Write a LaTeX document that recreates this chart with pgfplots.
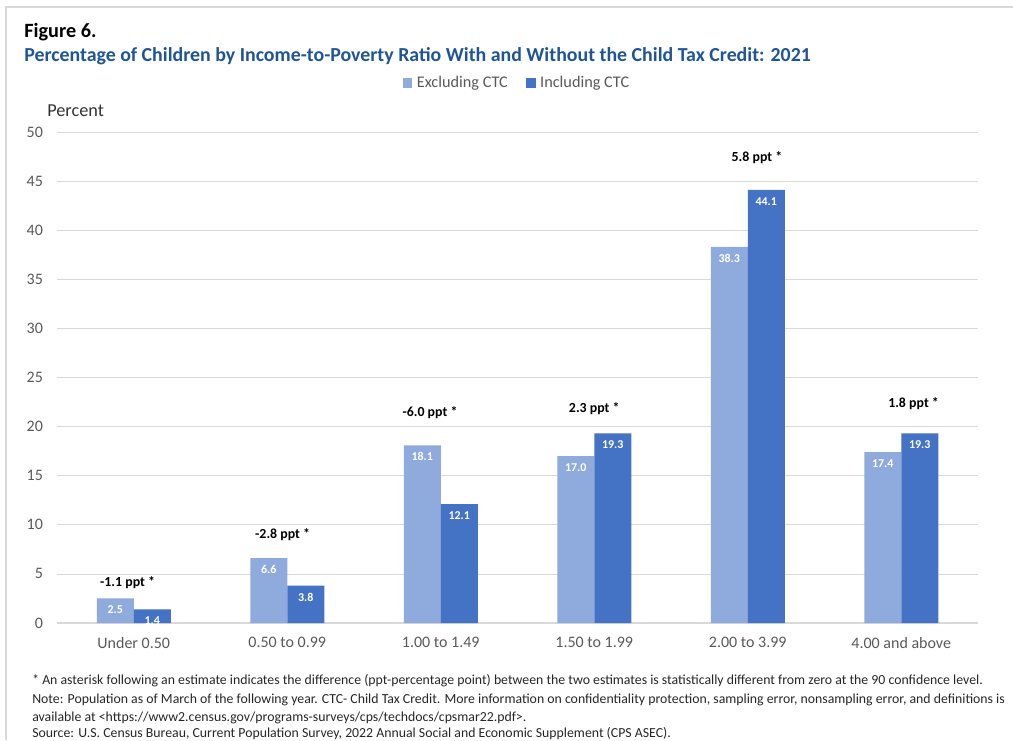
\documentclass[border=0pt]{standalone}
\usepackage{pgfplots}
\pgfplotsset{compat=1.18}
\usepackage{fontspec}
\setmainfont{Carlito}
\definecolor{lightbar}{HTML}{8FAADC}
\definecolor{darkbar}{HTML}{4472C4}
\definecolor{titleblue}{HTML}{1F5597}
\definecolor{ticktext}{HTML}{595959}
\definecolor{gridc}{HTML}{D9D9D9}
\definecolor{framec}{HTML}{D9D9D9}
\begin{document}
\begin{tikzpicture}
\path[use as bounding box] (0,0) rectangle (759.75pt,555pt);
\draw[framec, line width=0.8pt] (4.5pt,0pt) -- (4.5pt,549.75pt) -- (759.75pt,549.75pt);
\node[anchor=west, inner sep=0pt, font=\fontsize{15.2pt}{18pt}\selectfont\bfseries] at (18pt,531pt) {Figure 6.};
\node[anchor=west, inner sep=0pt, text=titleblue, font=\fontsize{14.9pt}{18pt}\selectfont\bfseries] at (18pt,513pt) {Percentage of Children by Income-to-Poverty Ratio With and Without the Child Tax Credit: 2021};
\node[anchor=west, inner sep=0pt, text=black!80, font=\fontsize{13.7pt}{16pt}\selectfont] at (35.25pt,471.75pt) {Percent};
\begin{axis}[
  at={(42.75pt,87.75pt)}, anchor=south west,
  scale only axis, width=690.75pt, height=368.25pt,
  xmin=-0.5, xmax=5.5, ymin=0, ymax=50,
  ybar=0pt, bar width=27.75pt,
  xtick={0,1,2,3,4,5},
  xticklabels={Under 0.50,0.50 to 0.99,1.00 to 1.49,1.50 to 1.99,2.00 to 3.99,4.00 and above},
  ytick={0,5,...,50},
  major tick length=0pt,
  axis x line*=bottom, axis y line*=left,
  x axis line style={draw=gridc, line width=0.8pt},
  y axis line style={draw=none},
  ymajorgrids, grid style={draw=gridc, line width=0.6pt},
  yticklabel style={text=ticktext, font=\fontsize{12pt}{14pt}\selectfont, anchor=east, xshift=-7pt},
  xticklabel style={text=ticktext, font=\fontsize{12pt}{14pt}\selectfont, yshift=-7pt},
  /pgf/number format/assume math mode=true,
  nodes near coords,
  nodes near coords style={anchor=north, yshift=-2pt, text=white, font=\fontsize{9pt}{10pt}\selectfont\bfseries, /pgf/number format/.cd, fixed, fixed zerofill, precision=1, assume math mode=true},
  legend style={at={(0.5,1.0998)}, anchor=center, draw=none, fill=none, legend columns=2, font=\fontsize{12.2pt}{14pt}\selectfont, text=ticktext, /tikz/every even column/.append style={column sep=12pt}},
  legend image code/.code={\fill[#1] (0pt,-3.4pt) rectangle (6.8pt,3.4pt);},
  clip=false,
]
\addplot[fill=lightbar, draw=none] coordinates {(0,2.5) (1,6.6) (2,18.1) (3,17.0) (4,38.3) (5,17.4)};
\addplot[fill=darkbar, draw=none] coordinates {(0,1.4) (1,3.8) (2,12.1) (3,19.3) (4,44.1) (5,19.3)};
\addlegendentry{\hspace{1.5pt}Excluding CTC}
\addlegendentry{\hspace{1.5pt}Including CTC}
\begin{scope}[every node/.style={font=\fontsize{10.4pt}{12pt}\selectfont\bfseries, text=black}]
\node at (axis cs:-0.04,4.1) {-1.1 ppt *};
\node at (axis cs:0.97,9.05) {-2.8 ppt *};
\node at (axis cs:1.93,21.4) {-6.0 ppt *};
\node at (axis cs:3.0,21.8) {2.3 ppt *};
\node at (axis cs:4.06,47.35) {5.8 ppt *};
\node at (axis cs:5.08,22.3) {1.8 ppt *};
\end{scope}
\end{axis}
\begin{scope}[every node/.style={anchor=west, inner sep=0pt, text=black!85, font=\fontsize{10.35pt}{12pt}\selectfont}]
\node at (24pt,44.25pt) {* An asterisk following an estimate indicates the difference (ppt-percentage point) between the two estimates is statistically different from zero at the 90 confidence level.};
\node at (24pt,30pt) {Note: Population as of March of the following year. CTC- Child Tax Credit. More information on confidentiality protection, sampling error, nonsampling error, and definitions is};
\node at (24pt,16.5pt) {available at <https://www2.census.gov/programs-surveys/cps/techdocs/cpsmar22.pdf>.};
\node at (24pt,4.6pt) {Source: U.S. Census Bureau, Current Population Survey, 2022 Annual Social and Economic Supplement (CPS ASEC).};
\end{scope}
\end{tikzpicture}
\end{document}
